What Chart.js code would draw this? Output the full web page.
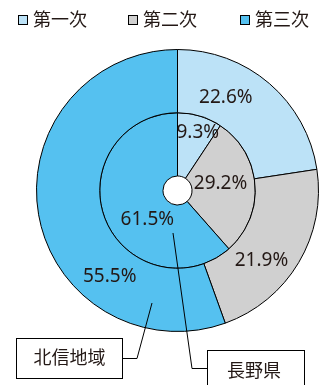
<!DOCTYPE html>
<html lang="ja">
<head>
<meta charset="utf-8">
<script src="https://cdn.jsdelivr.net/npm/chart.js@4"></script>
<style>
  html, body { margin: 0; padding: 0; background: #fff; }
  #wrap { width: 325px; height: 385px; position: relative; }
</style>
</head>
<body>
<div id="wrap"><canvas id="pieChart" width="325" height="385"></canvas></div>
<script>
// 産業別就業者の割合
const categories = ['第一次', '第二次', '第三次'];
const hokushinValues = [22.6, 21.9, 55.5]; // 北信地域 (外側)
const naganoValues = [9.3, 29.2, 61.5];    // 長野県 (内側)
const ringNames = ['北信地域', '長野県'];

const colors = ['#bce2f7', '#d0d0d0', '#55c1f0'];
const textColor = '#231815';
const jpFont = '"Noto Sans", "Noto Sans CJK JP", sans-serif';

// ラベルの位置調整 (各扇形の中心からのずれ)
const labelShift = [
    [[-23, -10], [-10, 14], [40, 67]],
    [[7, -14], [-3, -4], [13, 13]]
];

const overlayPlugin = {
    id: 'overlay',
    afterDraw(chart) {
        const ctx = chart.ctx;
        ctx.save();

        // 凡例
        const legendX = [18, 128, 240];
        ctx.font = '18px ' + jpFont;
        ctx.textBaseline = 'middle';
        ctx.textAlign = 'left';
        categories.forEach((cat, i) => {
            ctx.fillStyle = colors[i];
            ctx.fillRect(legendX[i] + 0.5, 15.5, 9, 9);
            ctx.strokeStyle = '#000';
            ctx.lineWidth = 1;
            ctx.strokeRect(legendX[i] + 0.5, 15.5, 9, 9);
            ctx.fillStyle = textColor;
            ctx.fillText(cat, legendX[i] + 15, 21);
        });

        // 割合ラベル
        ctx.font = '19px ' + jpFont;
        ctx.textAlign = 'center';
        chart.data.datasets.forEach((ds, d) => {
            const meta = chart.getDatasetMeta(d);
            meta.data.forEach((arc, i) => {
                const p = arc.tooltipPosition();
                const s = labelShift[d][i];
                ctx.fillStyle = textColor;
                ctx.fillText(ds.data[i].toFixed(1) + '%', p.x + s[0], p.y + s[1]);
            });
        });

        // 引き出し線
        ctx.strokeStyle = '#000';
        ctx.lineWidth = 1;
        ctx.beginPath();
        ctx.moveTo(152, 303);
        ctx.lineTo(137, 358.5);
        ctx.lineTo(123, 358.5);
        ctx.moveTo(173, 233);
        ctx.lineTo(192, 368.5);
        ctx.lineTo(207, 368.5);
        ctx.stroke();

        // 名前の枠
        ctx.fillStyle = '#fff';
        ctx.fillRect(16.5, 338.5, 106, 40);
        ctx.strokeRect(16.5, 338.5, 106, 40);
        ctx.fillRect(207.5, 350.5, 97, 40);
        ctx.strokeRect(207.5, 350.5, 97, 40);

        ctx.fillStyle = textColor;
        ctx.font = '18px ' + jpFont;
        ctx.fillText(ringNames[0], 69.5, 359);
        ctx.fillText(ringNames[1], 254, 372);

        ctx.restore();
    }
};

const ctx = document.getElementById('pieChart').getContext('2d');
const pieChart = new Chart(ctx, {
    type: 'doughnut',
    data: {
        labels: categories,
        datasets: [
            {
                label: ringNames[0],
                data: hokushinValues,
                backgroundColor: colors,
                borderColor: '#000',
                borderWidth: 1
            },
            {
                label: ringNames[1],
                data: naganoValues,
                backgroundColor: colors,
                borderColor: '#000',
                borderWidth: 1
            }
        ]
    },
    options: {
        responsive: false,
        animation: false,
        cutout: '10.3%',
        layout: {
            padding: { left: 36, right: 6, top: 49, bottom: 53 }
        },
        plugins: {
            legend: { display: false },
            tooltip: { enabled: false }
        }
    },
    plugins: [overlayPlugin]
});
</script>
</body>
</html>
